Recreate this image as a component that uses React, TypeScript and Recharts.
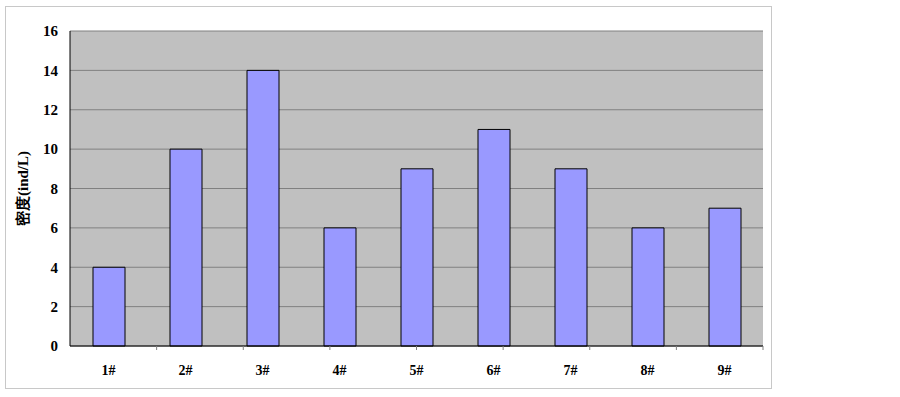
import React from "react";
import { BarChart, Bar, XAxis, YAxis, CartesianGrid } from "recharts";

const categories = ["1#", "2#", "3#", "4#", "5#", "6#", "7#", "8#", "9#"];
const densityValues = [4, 10, 14, 6, 9, 11, 9, 6, 7];
const yTicks = [0, 2, 4, 6, 8, 10, 12, 14, 16];
const boundaryTicks = [1, 2, 3, 4, 5, 6, 7, 8];

const data = categories.map((c, i) => ({ name: c, value: densityValues[i] }));

const font = '"Liberation Serif", "Times New Roman", serif';

export default function App() {
  return (
    <div style={{ position: "absolute", left: 0, top: 0, width: 900, height: 397, background: "#fff" }}>
      <div
        style={{
          position: "absolute",
          left: 5,
          top: 6,
          width: 767,
          height: 383,
          border: "1px solid #c8c8c8",
          boxSizing: "border-box",
        }}
      />
      <div style={{ position: "absolute", left: 0, top: 0 }}>
        <BarChart
          width={900}
          height={397}
          data={data}
          margin={{ top: 31, right: 137, bottom: 0, left: 0 }}
          barSize={32}
        >
          <CartesianGrid vertical={false} stroke="#808080" fill="#c0c0c0" fillOpacity={1} />
          <XAxis
            dataKey="name"
            height={51}
            axisLine={{ stroke: "#000", strokeWidth: 1 }}
            tickLine={false}
            tickMargin={13}
            tick={{ fill: "#000", fontSize: 14, fontWeight: "bold", fontFamily: font }}
            interval={0}
          />
          <XAxis
            xAxisId="b"
            type="number"
            domain={[0, 9]}
            allowDataOverflow
            ticks={boundaryTicks}
            interval={0}
            height={1}
            orientation="bottom"
            mirror
            tickSize={-4}
            tick={() => <g />}
            axisLine={false}
            tickLine={{ stroke: "#808080", strokeWidth: 1 }}
          />
          <YAxis
            width={70}
            domain={[0, 16]}
            ticks={yTicks}
            interval={0}
            axisLine={{ stroke: "#000", strokeWidth: 1 }}
            tickLine={false}
            tickMargin={6}
            tick={{ fill: "#000", fontSize: 15, fontWeight: "bold", fontFamily: font }}
            label={{
              value: "密度(ind/L)",
              angle: -90,
              position: "insideLeft",
              offset: 23,
              style: { fill: "#000", fontSize: 15, fontWeight: "bold", fontFamily: font, textAnchor: "middle" },
            }}
          />
          <YAxis
            yAxisId="r"
            orientation="right"
            width={0}
            domain={[0, 16]}
            tick={false}
            tickLine={false}
            axisLine={{ stroke: "#909090", strokeWidth: 2 }}
          />
          <Bar dataKey="value" fill="#9999ff" stroke="#000" strokeWidth={1} isAnimationActive={false} />
        </BarChart>
      </div>
    </div>
  );
}
